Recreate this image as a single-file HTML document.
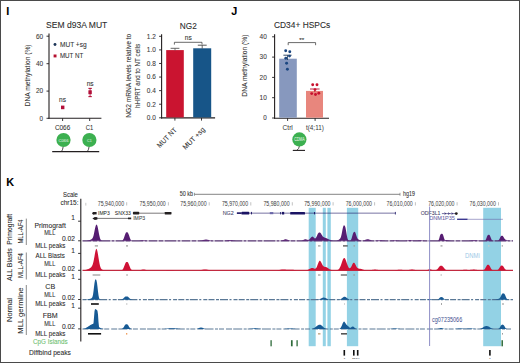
<!DOCTYPE html>
<html><head><meta charset="utf-8"><style>
html,body{margin:0;padding:0;background:#fff;}
svg{display:block;font-family:"Liberation Sans", sans-serif;}
</style></head><body>
<svg width="520" height="363" viewBox="0 0 520 363">
<rect width="520" height="363" fill="#fff"/>
<rect x="0.5" y="0.5" width="519" height="362" fill="none" stroke="#4a4a4a" stroke-width="1"/>
<text x="6.3" y="14.9" font-size="10.8" fill="#000" text-anchor="start" font-weight="bold" stroke="#000" stroke-width="0.08">I</text>
<text x="231.3" y="15.2" font-size="10.8" fill="#000" text-anchor="start" font-weight="bold" stroke="#000" stroke-width="0.08">J</text>
<text x="6.2" y="185.7" font-size="10.8" fill="#000" text-anchor="start" font-weight="bold" stroke="#000" stroke-width="0.08">K</text>
<text x="46" y="27.9" font-size="8.4" fill="#2b2b2b" text-anchor="start" textLength="61.3" lengthAdjust="spacingAndGlyphs" stroke="#2b2b2b" stroke-width="0.08">SEM d93A MUT</text>
<line x1="49" y1="33.5" x2="49" y2="118.8" stroke="#231f20" stroke-width="1.1"/>
<line x1="46.5" y1="36.2" x2="49" y2="36.2" stroke="#231f20" stroke-width="0.9"/>
<text x="43.1" y="38.5" font-size="6.6" fill="#3a3a3a" text-anchor="end" textLength="7.2" lengthAdjust="spacingAndGlyphs" stroke="#3a3a3a" stroke-width="0.08">60</text>
<line x1="46.5" y1="63.7" x2="49" y2="63.7" stroke="#231f20" stroke-width="0.9"/>
<text x="43.1" y="66.0" font-size="6.6" fill="#3a3a3a" text-anchor="end" textLength="7.2" lengthAdjust="spacingAndGlyphs" stroke="#3a3a3a" stroke-width="0.08">40</text>
<line x1="46.5" y1="91.1" x2="49" y2="91.1" stroke="#231f20" stroke-width="0.9"/>
<text x="43.1" y="93.39999999999999" font-size="6.6" fill="#3a3a3a" text-anchor="end" textLength="7.2" lengthAdjust="spacingAndGlyphs" stroke="#3a3a3a" stroke-width="0.08">20</text>
<line x1="46.5" y1="118.3" x2="49" y2="118.3" stroke="#231f20" stroke-width="0.9"/>
<text x="43.1" y="120.6" font-size="6.6" fill="#3a3a3a" text-anchor="end" textLength="3.5" lengthAdjust="spacingAndGlyphs" stroke="#3a3a3a" stroke-width="0.08">0</text>
<line x1="48.5" y1="118.3" x2="101.4" y2="118.3" stroke="#231f20" stroke-width="1.1"/>
<line x1="62.6" y1="118.3" x2="62.6" y2="121" stroke="#231f20" stroke-width="0.9"/>
<line x1="89.7" y1="118.3" x2="89.7" y2="121" stroke="#231f20" stroke-width="0.9"/>
<text x="29.7" y="75.4" font-size="7.8" fill="#333" text-anchor="middle" textLength="62" lengthAdjust="spacingAndGlyphs" transform="rotate(-90 29.7 75.4)" stroke="#333" stroke-width="0.08">DNA methylation (%)</text>
<circle cx="55.0" cy="44.5" r="1.45" fill="#1d3557"/>
<text x="59.9" y="46.6" font-size="6.9" fill="#333" text-anchor="start" textLength="26.8" lengthAdjust="spacingAndGlyphs" stroke="#333" stroke-width="0.08">MUT +sg</text>
<rect x="53.60" y="54.50" width="2.90" height="2.90" fill="#b5102f"/>
<text x="59.9" y="57.5" font-size="6.9" fill="#333" text-anchor="start" textLength="23.4" lengthAdjust="spacingAndGlyphs" stroke="#333" stroke-width="0.08">MUT NT</text>
<rect x="61.00" y="105.60" width="3.40" height="3.60" fill="#b3103a"/>
<rect x="88.40" y="90.30" width="3.40" height="3.90" fill="#b3103a"/>
<line x1="90.1" y1="88.4" x2="90.1" y2="96.6" stroke="#b3103a" stroke-width="0.8"/>
<line x1="88.4" y1="88.4" x2="91.8" y2="88.4" stroke="#b3103a" stroke-width="1.1"/>
<line x1="88.4" y1="96.6" x2="91.8" y2="96.6" stroke="#b3103a" stroke-width="1.1"/>
<text x="62.6" y="101.7" font-size="6.6" fill="#333" text-anchor="middle" stroke="#333" stroke-width="0.08">ns</text>
<text x="90.2" y="85.5" font-size="6.6" fill="#333" text-anchor="middle" stroke="#333" stroke-width="0.08">ns</text>
<text x="62.6" y="130.2" font-size="7.0" fill="#333" text-anchor="middle" textLength="15.3" lengthAdjust="spacingAndGlyphs" stroke="#333" stroke-width="0.08">C066</text>
<text x="89.5" y="130.2" font-size="7.0" fill="#333" text-anchor="middle" textLength="7.4" lengthAdjust="spacingAndGlyphs" stroke="#333" stroke-width="0.08">C1</text>
<path d="M63.2 146.5 Q62.9 149.5 61.5 151.5" stroke="#231f20" stroke-width="0.8" fill="none"/>
<circle cx="63.5" cy="140" r="7.1" fill="#3cb050"/>
<text x="63.5" y="141.5" font-size="4.2" fill="#eef8ee" text-anchor="middle" textLength="10" lengthAdjust="spacingAndGlyphs">C066</text>
<path d="M89.10000000000001 146.5 Q88.80000000000001 149.5 87.4 151.5" stroke="#231f20" stroke-width="0.8" fill="none"/>
<circle cx="89.4" cy="140" r="7.1" fill="#3cb050"/>
<text x="89.4" y="141.5" font-size="4.2" fill="#eef8ee" text-anchor="middle" textLength="4.6" lengthAdjust="spacingAndGlyphs">C1</text>
<line x1="52.2" y1="151.6" x2="99.2" y2="151.6" stroke="#231f20" stroke-width="1.1"/>
<text x="179.8" y="28.5" font-size="8.4" fill="#2b2b2b" text-anchor="start" textLength="17.0" lengthAdjust="spacingAndGlyphs" stroke="#2b2b2b" stroke-width="0.08">NG2</text>
<line x1="161.6" y1="34.3" x2="161.6" y2="118.4" stroke="#231f20" stroke-width="1.1"/>
<line x1="159.1" y1="117.8" x2="161.6" y2="117.8" stroke="#231f20" stroke-width="0.9"/>
<text x="155.8" y="120.1" font-size="6.6" fill="#3a3a3a" text-anchor="end" textLength="9.0" lengthAdjust="spacingAndGlyphs" stroke="#3a3a3a" stroke-width="0.08">0.0</text>
<line x1="159.1" y1="104.22" x2="161.6" y2="104.22" stroke="#231f20" stroke-width="0.9"/>
<text x="155.8" y="106.52" font-size="6.6" fill="#3a3a3a" text-anchor="end" textLength="9.0" lengthAdjust="spacingAndGlyphs" stroke="#3a3a3a" stroke-width="0.08">0.2</text>
<line x1="159.1" y1="90.64" x2="161.6" y2="90.64" stroke="#231f20" stroke-width="0.9"/>
<text x="155.8" y="92.94" font-size="6.6" fill="#3a3a3a" text-anchor="end" textLength="9.0" lengthAdjust="spacingAndGlyphs" stroke="#3a3a3a" stroke-width="0.08">0.4</text>
<line x1="159.1" y1="77.06" x2="161.6" y2="77.06" stroke="#231f20" stroke-width="0.9"/>
<text x="155.8" y="79.36" font-size="6.6" fill="#3a3a3a" text-anchor="end" textLength="9.0" lengthAdjust="spacingAndGlyphs" stroke="#3a3a3a" stroke-width="0.08">0.6</text>
<line x1="159.1" y1="63.48" x2="161.6" y2="63.48" stroke="#231f20" stroke-width="0.9"/>
<text x="155.8" y="65.78" font-size="6.6" fill="#3a3a3a" text-anchor="end" textLength="9.0" lengthAdjust="spacingAndGlyphs" stroke="#3a3a3a" stroke-width="0.08">0.8</text>
<line x1="159.1" y1="49.89999999999999" x2="161.6" y2="49.89999999999999" stroke="#231f20" stroke-width="0.9"/>
<text x="155.8" y="52.19999999999999" font-size="6.6" fill="#3a3a3a" text-anchor="end" textLength="9.0" lengthAdjust="spacingAndGlyphs" stroke="#3a3a3a" stroke-width="0.08">1.0</text>
<line x1="159.1" y1="36.31999999999999" x2="161.6" y2="36.31999999999999" stroke="#231f20" stroke-width="0.9"/>
<text x="155.8" y="38.61999999999999" font-size="6.6" fill="#3a3a3a" text-anchor="end" textLength="9.0" lengthAdjust="spacingAndGlyphs" stroke="#3a3a3a" stroke-width="0.08">1.2</text>
<line x1="161.1" y1="117.9" x2="215.1" y2="117.9" stroke="#231f20" stroke-width="1.1"/>
<line x1="174.9" y1="117.9" x2="174.9" y2="120.6" stroke="#231f20" stroke-width="0.9"/>
<line x1="201.5" y1="117.9" x2="201.5" y2="120.6" stroke="#231f20" stroke-width="0.9"/>
<rect x="166.20" y="50.10" width="17.60" height="67.30" fill="#ca1430"/>
<rect x="193.20" y="48.30" width="18.00" height="69.10" fill="#175588"/>
<line x1="175" y1="48.3" x2="175" y2="50.5" stroke="#555" stroke-width="0.8"/>
<line x1="170.6" y1="48.3" x2="179.4" y2="48.3" stroke="#555" stroke-width="0.9"/>
<line x1="202.2" y1="45.2" x2="202.2" y2="48.6" stroke="#444" stroke-width="0.8"/>
<line x1="197.8" y1="45.2" x2="206.7" y2="45.2" stroke="#444" stroke-width="0.9"/>
<path d="M174.4 44.6 V42.3 H202.0 V44.4" stroke="#444" stroke-width="0.8" fill="none"/>
<text x="188.3" y="40.1" font-size="6.6" fill="#333" text-anchor="middle" stroke="#333" stroke-width="0.08">ns</text>
<text x="131.0" y="75.75" font-size="7.5" fill="#333" text-anchor="middle" textLength="84.1" lengthAdjust="spacingAndGlyphs" transform="rotate(-90 131.0 75.75)" stroke="#333" stroke-width="0.08">NG2 mRNA levels relative to</text>
<text x="140.2" y="75.85" font-size="7.5" fill="#333" text-anchor="middle" textLength="64.1" lengthAdjust="spacingAndGlyphs" transform="rotate(-90 140.2 75.85)" stroke="#333" stroke-width="0.08">hHPRT and to NT cells</text>
<text x="177.3" y="130.6" font-size="7.2" fill="#333" text-anchor="end" textLength="24.8" lengthAdjust="spacingAndGlyphs" transform="rotate(-45 177.3 130.6)" stroke="#333" stroke-width="0.08">MUT NT</text>
<text x="205.5" y="130.1" font-size="7.2" fill="#333" text-anchor="end" textLength="28.2" lengthAdjust="spacingAndGlyphs" transform="rotate(-45 205.5 130.1)" stroke="#333" stroke-width="0.08">MUT +sg</text>
<text x="274.0" y="28.4" font-size="8.4" fill="#2b2b2b" text-anchor="start" textLength="56.2" lengthAdjust="spacingAndGlyphs" stroke="#2b2b2b" stroke-width="0.08">CD34+ HSPCs</text>
<line x1="274.6" y1="34.3" x2="274.6" y2="118.7" stroke="#231f20" stroke-width="1.1"/>
<line x1="272.1" y1="36.8" x2="274.6" y2="36.8" stroke="#231f20" stroke-width="0.9"/>
<text x="266.8" y="39.099999999999994" font-size="6.6" fill="#3a3a3a" text-anchor="end" textLength="7.2" lengthAdjust="spacingAndGlyphs" stroke="#3a3a3a" stroke-width="0.08">40</text>
<line x1="272.1" y1="57.099999999999994" x2="274.6" y2="57.099999999999994" stroke="#231f20" stroke-width="0.9"/>
<text x="266.8" y="59.39999999999999" font-size="6.6" fill="#3a3a3a" text-anchor="end" textLength="7.2" lengthAdjust="spacingAndGlyphs" stroke="#3a3a3a" stroke-width="0.08">30</text>
<line x1="272.1" y1="77.4" x2="274.6" y2="77.4" stroke="#231f20" stroke-width="0.9"/>
<text x="266.8" y="79.7" font-size="6.6" fill="#3a3a3a" text-anchor="end" textLength="7.2" lengthAdjust="spacingAndGlyphs" stroke="#3a3a3a" stroke-width="0.08">20</text>
<line x1="272.1" y1="97.7" x2="274.6" y2="97.7" stroke="#231f20" stroke-width="0.9"/>
<text x="266.8" y="100.0" font-size="6.6" fill="#3a3a3a" text-anchor="end" textLength="7.2" lengthAdjust="spacingAndGlyphs" stroke="#3a3a3a" stroke-width="0.08">10</text>
<line x1="272.1" y1="118.0" x2="274.6" y2="118.0" stroke="#231f20" stroke-width="0.9"/>
<text x="266.8" y="120.3" font-size="6.6" fill="#3a3a3a" text-anchor="end" textLength="3.5" lengthAdjust="spacingAndGlyphs" stroke="#3a3a3a" stroke-width="0.08">0</text>
<line x1="274.1" y1="118.2" x2="329" y2="118.2" stroke="#231f20" stroke-width="1.1"/>
<line x1="287.6" y1="118.2" x2="287.6" y2="120.9" stroke="#231f20" stroke-width="0.9"/>
<line x1="315.1" y1="118.2" x2="315.1" y2="120.9" stroke="#231f20" stroke-width="0.9"/>
<rect x="279.20" y="58.70" width="17.60" height="59.00" fill="#8798be"/>
<rect x="306.00" y="90.90" width="17.00" height="26.80" fill="#e8867d"/>
<line x1="287.5" y1="55.2" x2="287.5" y2="60" stroke="#1d3557" stroke-width="0.8"/>
<line x1="283.4" y1="55.2" x2="291.6" y2="55.2" stroke="#1d3557" stroke-width="0.9"/>
<line x1="314.8" y1="89.0" x2="314.8" y2="92" stroke="#b5102f" stroke-width="0.8"/>
<line x1="310" y1="89.0" x2="319.6" y2="89.0" stroke="#b5102f" stroke-width="0.9"/>
<circle cx="285.7" cy="50.8" r="1.45" fill="#1b4680"/>
<circle cx="289.8" cy="51.8" r="1.45" fill="#1b4680"/>
<circle cx="289.5" cy="56.1" r="1.45" fill="#1b4680"/>
<circle cx="285.8" cy="58.3" r="1.45" fill="#1b4680"/>
<circle cx="286.6" cy="63.2" r="1.45" fill="#1b4680"/>
<circle cx="287.4" cy="69.3" r="1.45" fill="#1b4680"/>
<circle cx="312.7" cy="84.7" r="1.45" fill="#c8102e"/>
<circle cx="317.0" cy="84.7" r="1.45" fill="#c8102e"/>
<circle cx="315.0" cy="89.6" r="1.45" fill="#c8102e"/>
<circle cx="311.7" cy="93.6" r="1.45" fill="#c8102e"/>
<circle cx="315.5" cy="94.5" r="1.45" fill="#c8102e"/>
<circle cx="318.8" cy="93.2" r="1.45" fill="#c8102e"/>
<path d="M288.2 45.2 V42.6 H315.6 V45.2" stroke="#444" stroke-width="0.8" fill="none"/>
<text x="301.7" y="42.2" font-size="6.2" fill="#333" text-anchor="middle" stroke="#333" stroke-width="0.08">**</text>
<text x="247.2" y="65.6" font-size="7.8" fill="#333" text-anchor="middle" textLength="62.1" lengthAdjust="spacingAndGlyphs" transform="rotate(-90 247.2 65.6)" stroke="#333" stroke-width="0.08">DNA methylation (%)</text>
<text x="287.7" y="129.7" font-size="6.6" fill="#333" text-anchor="middle" textLength="10.2" lengthAdjust="spacingAndGlyphs">Ctrl</text>
<text x="314.9" y="129.7" font-size="6.6" fill="#333" text-anchor="middle" textLength="17.8" lengthAdjust="spacingAndGlyphs">t(4;11)</text>
<path d="M299.4 146 Q299.2 148.7 296.8 150.3" stroke="#231f20" stroke-width="0.8" fill="none"/>
<circle cx="299.4" cy="139.4" r="7.1" fill="#3cb050"/>
<text x="299.4" y="141.1" font-size="4.6" fill="#eef8ee" text-anchor="middle" textLength="10.5" lengthAdjust="spacingAndGlyphs">CDMA</text>
<line x1="292.8" y1="150.4" x2="305.0" y2="150.4" stroke="#231f20" stroke-width="1.1"/>
<text x="12.0" y="229.4" font-size="7.4" fill="#2b2b2b" text-anchor="middle" textLength="30.9" lengthAdjust="spacingAndGlyphs" transform="rotate(-90 12.0 229.4)" stroke="#2b2b2b" stroke-width="0.08">Primograft</text>
<text x="22.9" y="231.5" font-size="7.4" fill="#2b2b2b" text-anchor="middle" textLength="24.1" lengthAdjust="spacingAndGlyphs" transform="rotate(-90 22.9 231.5)" stroke="#2b2b2b" stroke-width="0.08">MLL-AF4</text>
<line x1="26.3" y1="218.6" x2="26.3" y2="245" stroke="#8a8a8a" stroke-width="1"/>
<text x="12.0" y="264.7" font-size="7.4" fill="#2b2b2b" text-anchor="middle" textLength="32.8" lengthAdjust="spacingAndGlyphs" transform="rotate(-90 12.0 264.7)" stroke="#2b2b2b" stroke-width="0.08">ALL Blasts</text>
<text x="22.9" y="265.5" font-size="7.4" fill="#2b2b2b" text-anchor="middle" textLength="25.0" lengthAdjust="spacingAndGlyphs" transform="rotate(-90 22.9 265.5)" stroke="#2b2b2b" stroke-width="0.08">MLL-AF4</text>
<line x1="26.3" y1="252.5" x2="26.3" y2="279.5" stroke="#8a8a8a" stroke-width="1"/>
<text x="12.0" y="310.0" font-size="7.4" fill="#2b2b2b" text-anchor="middle" textLength="24.0" lengthAdjust="spacingAndGlyphs" transform="rotate(-90 12.0 310.0)" stroke="#2b2b2b" stroke-width="0.08">Normal</text>
<text x="22.9" y="310.6" font-size="7.4" fill="#2b2b2b" text-anchor="middle" textLength="46.2" lengthAdjust="spacingAndGlyphs" transform="rotate(-90 22.9 310.6)" stroke="#2b2b2b" stroke-width="0.08">MLL germline</text>
<line x1="26.3" y1="285.0" x2="26.3" y2="335.0" stroke="#8a8a8a" stroke-width="1"/>
<text x="77.9" y="196.9" font-size="7.0" fill="#2b2b2b" text-anchor="end" textLength="14.9" lengthAdjust="spacingAndGlyphs" stroke="#2b2b2b" stroke-width="0.08">Scale</text>
<text x="78.6" y="204.8" font-size="7.0" fill="#2b2b2b" text-anchor="end" textLength="18.2" lengthAdjust="spacingAndGlyphs" stroke="#2b2b2b" stroke-width="0.08">chr15:</text>
<text x="50.2" y="228.0" font-size="7.1" fill="#2b2b2b" text-anchor="middle" textLength="31.2" lengthAdjust="spacingAndGlyphs" stroke="#2b2b2b" stroke-width="0.08">Primograft</text>
<text x="49.8" y="234.6" font-size="7.1" fill="#2b2b2b" text-anchor="middle" textLength="11.0" lengthAdjust="spacingAndGlyphs" stroke="#2b2b2b" stroke-width="0.08">MLL</text>
<text x="74.9" y="241.10000000000002" font-size="6.8" fill="#2b2b2b" text-anchor="end" textLength="13.0" lengthAdjust="spacingAndGlyphs" stroke="#2b2b2b" stroke-width="0.08">0.02</text>
<text x="75.0" y="219.7" font-size="6.6" fill="#2b2b2b" text-anchor="end" stroke="#2b2b2b" stroke-width="0.08">1</text>
<text x="50.3" y="248.2" font-size="7.0" fill="#2b2b2b" text-anchor="middle" textLength="30.3" lengthAdjust="spacingAndGlyphs" stroke="#2b2b2b" stroke-width="0.08">MLL peaks</text>
<line x1="78.1" y1="221.2" x2="80.8" y2="221.2" stroke="#231f20" stroke-width="0.9"/>
<line x1="78.1" y1="240.8" x2="80.8" y2="240.8" stroke="#231f20" stroke-width="0.9"/>
<text x="50.2" y="258.1" font-size="7.1" fill="#2b2b2b" text-anchor="middle" textLength="29.2" lengthAdjust="spacingAndGlyphs" stroke="#2b2b2b" stroke-width="0.08">ALL Blasts</text>
<text x="49.8" y="265.6" font-size="7.1" fill="#2b2b2b" text-anchor="middle" textLength="11.0" lengthAdjust="spacingAndGlyphs" stroke="#2b2b2b" stroke-width="0.08">MLL</text>
<text x="74.9" y="270.6" font-size="6.8" fill="#2b2b2b" text-anchor="end" textLength="13.0" lengthAdjust="spacingAndGlyphs" stroke="#2b2b2b" stroke-width="0.08">0.02</text>
<text x="75.0" y="252.8" font-size="6.6" fill="#2b2b2b" text-anchor="end" stroke="#2b2b2b" stroke-width="0.08">1</text>
<text x="50.3" y="277.1" font-size="7.0" fill="#2b2b2b" text-anchor="middle" textLength="30.3" lengthAdjust="spacingAndGlyphs" stroke="#2b2b2b" stroke-width="0.08">MLL peaks</text>
<line x1="78.1" y1="253.4" x2="80.8" y2="253.4" stroke="#231f20" stroke-width="0.9"/>
<line x1="78.1" y1="270.3" x2="80.8" y2="270.3" stroke="#231f20" stroke-width="0.9"/>
<text x="50.2" y="288.6" font-size="7.1" fill="#2b2b2b" text-anchor="middle" stroke="#2b2b2b" stroke-width="0.08">CB</text>
<text x="49.8" y="296.5" font-size="7.1" fill="#2b2b2b" text-anchor="middle" textLength="11.0" lengthAdjust="spacingAndGlyphs" stroke="#2b2b2b" stroke-width="0.08">MLL</text>
<text x="74.9" y="299.8" font-size="6.8" fill="#2b2b2b" text-anchor="end" textLength="13.0" lengthAdjust="spacingAndGlyphs" stroke="#2b2b2b" stroke-width="0.08">0.02</text>
<text x="75.0" y="279.0" font-size="6.6" fill="#2b2b2b" text-anchor="end" stroke="#2b2b2b" stroke-width="0.08">1</text>
<text x="50.3" y="306.4" font-size="7.0" fill="#2b2b2b" text-anchor="middle" textLength="30.3" lengthAdjust="spacingAndGlyphs" stroke="#2b2b2b" stroke-width="0.08">MLL peaks</text>
<line x1="78.1" y1="279.3" x2="80.8" y2="279.3" stroke="#231f20" stroke-width="0.9"/>
<line x1="78.1" y1="299.5" x2="80.8" y2="299.5" stroke="#231f20" stroke-width="0.9"/>
<text x="50.2" y="318.0" font-size="7.1" fill="#2b2b2b" text-anchor="middle" stroke="#2b2b2b" stroke-width="0.08">FBM</text>
<text x="49.8" y="326.3" font-size="7.1" fill="#2b2b2b" text-anchor="middle" textLength="11.0" lengthAdjust="spacingAndGlyphs" stroke="#2b2b2b" stroke-width="0.08">MLL</text>
<text x="74.9" y="329.2" font-size="6.8" fill="#2b2b2b" text-anchor="end" textLength="13.0" lengthAdjust="spacingAndGlyphs" stroke="#2b2b2b" stroke-width="0.08">0.02</text>
<text x="75.0" y="307.5" font-size="6.6" fill="#2b2b2b" text-anchor="end" stroke="#2b2b2b" stroke-width="0.08">1</text>
<text x="50.3" y="335.6" font-size="7.0" fill="#2b2b2b" text-anchor="middle" textLength="30.3" lengthAdjust="spacingAndGlyphs" stroke="#2b2b2b" stroke-width="0.08">MLL peaks</text>
<line x1="78.1" y1="308.2" x2="80.8" y2="308.2" stroke="#231f20" stroke-width="0.9"/>
<line x1="78.1" y1="328.9" x2="80.8" y2="328.9" stroke="#231f20" stroke-width="0.9"/>
<text x="50.4" y="344.2" font-size="7.0" fill="#6cc070" text-anchor="middle" textLength="34.7" lengthAdjust="spacingAndGlyphs" stroke="#6cc070" stroke-width="0.08">CpG Islands</text>
<text x="49.9" y="355.3" font-size="7.0" fill="#2b2b2b" text-anchor="middle" textLength="41.8" lengthAdjust="spacingAndGlyphs" stroke="#2b2b2b" stroke-width="0.08">Diffbind peaks</text>
<line x1="80.8" y1="198.8" x2="80.8" y2="341.4" stroke="#231f20" stroke-width="1.1"/>
<rect x="308.70" y="207.80" width="7.00" height="138.40" fill="#93d2e5"/>
<rect x="322.80" y="207.80" width="3.00" height="138.40" fill="#93d2e5"/>
<rect x="327.40" y="207.80" width="3.40" height="138.40" fill="#93d2e5"/>
<rect x="346.90" y="207.80" width="11.30" height="138.40" fill="#93d2e5"/>
<rect x="483.20" y="207.80" width="17.80" height="138.40" fill="#93d2e5"/>
<text x="179.7" y="196.2" font-size="6.8" fill="#333" text-anchor="start" textLength="13.4" lengthAdjust="spacingAndGlyphs" stroke="#333" stroke-width="0.08">50 kb</text>
<line x1="194.5" y1="194.3" x2="400" y2="194.3" stroke="#777" stroke-width="0.9"/>
<line x1="194.5" y1="192.8" x2="194.5" y2="195.8" stroke="#777" stroke-width="0.7"/>
<line x1="400" y1="192.8" x2="400" y2="195.8" stroke="#777" stroke-width="0.7"/>
<text x="403.1" y="196.4" font-size="6.8" fill="#333" text-anchor="start" textLength="11.8" lengthAdjust="spacingAndGlyphs" stroke="#333" stroke-width="0.08">hg19</text>
<line x1="85.8" y1="202.8" x2="85.8" y2="205.6" stroke="#bbb" stroke-width="0.8"/>
<text x="124.10000000000001" y="205.8" font-size="6.4" fill="#3a3a3a" text-anchor="end" textLength="26.3" lengthAdjust="spacingAndGlyphs">75,940,000</text>
<line x1="126.7" y1="202.2" x2="126.7" y2="205.5" stroke="#999" stroke-width="0.6"/>
<text x="165.8" y="205.8" font-size="6.4" fill="#3a3a3a" text-anchor="end" textLength="26.3" lengthAdjust="spacingAndGlyphs">75,950,000</text>
<line x1="168.4" y1="202.2" x2="168.4" y2="205.5" stroke="#999" stroke-width="0.6"/>
<text x="206.6" y="205.8" font-size="6.4" fill="#3a3a3a" text-anchor="end" textLength="26.3" lengthAdjust="spacingAndGlyphs">75,960,000</text>
<line x1="209.2" y1="202.2" x2="209.2" y2="205.5" stroke="#999" stroke-width="0.6"/>
<text x="248.20000000000002" y="205.8" font-size="6.4" fill="#3a3a3a" text-anchor="end" textLength="26.3" lengthAdjust="spacingAndGlyphs">75,970,000</text>
<line x1="250.8" y1="202.2" x2="250.8" y2="205.5" stroke="#999" stroke-width="0.6"/>
<text x="289.7" y="205.8" font-size="6.4" fill="#3a3a3a" text-anchor="end" textLength="26.3" lengthAdjust="spacingAndGlyphs">75,980,000</text>
<line x1="292.3" y1="202.2" x2="292.3" y2="205.5" stroke="#999" stroke-width="0.6"/>
<text x="330.5" y="205.8" font-size="6.4" fill="#3a3a3a" text-anchor="end" textLength="26.3" lengthAdjust="spacingAndGlyphs">75,990,000</text>
<line x1="333.1" y1="202.2" x2="333.1" y2="205.5" stroke="#999" stroke-width="0.6"/>
<text x="372.0" y="205.8" font-size="6.4" fill="#3a3a3a" text-anchor="end" textLength="26.3" lengthAdjust="spacingAndGlyphs">76,000,000</text>
<line x1="374.6" y1="202.2" x2="374.6" y2="205.5" stroke="#999" stroke-width="0.6"/>
<text x="412.79999999999995" y="205.8" font-size="6.4" fill="#3a3a3a" text-anchor="end" textLength="26.3" lengthAdjust="spacingAndGlyphs">76,010,000</text>
<line x1="415.4" y1="202.2" x2="415.4" y2="205.5" stroke="#999" stroke-width="0.6"/>
<text x="454.5" y="205.8" font-size="6.4" fill="#3a3a3a" text-anchor="end" textLength="26.3" lengthAdjust="spacingAndGlyphs">76,020,000</text>
<line x1="457.1" y1="202.2" x2="457.1" y2="205.5" stroke="#999" stroke-width="0.6"/>
<text x="495.9" y="205.8" font-size="6.4" fill="#3a3a3a" text-anchor="end" textLength="26.3" lengthAdjust="spacingAndGlyphs">76,030,000</text>
<line x1="498.5" y1="202.2" x2="498.5" y2="205.5" stroke="#999" stroke-width="0.6"/>
<rect x="93.00" y="212.00" width="3.60" height="2.40" fill="#231f20"/>
<circle cx="93.6" cy="213.2" r="1.3" fill="#231f20"/>
<text x="98.0" y="214.7" font-size="6.2" fill="#231f20" text-anchor="start" textLength="11.8" lengthAdjust="spacingAndGlyphs" stroke="#231f20" stroke-width="0.04">IMP3</text>
<text x="114.8" y="214.5" font-size="6.2" fill="#231f20" text-anchor="start" textLength="16.0" lengthAdjust="spacingAndGlyphs" stroke="#231f20" stroke-width="0.04">SNX33</text>
<rect x="132.90" y="211.85" width="6.40" height="2.70" fill="#231f20" rx="0.8"/>
<line x1="139.2" y1="213.2" x2="164.6" y2="213.2" stroke="#231f20" stroke-width="0.6"/>
<rect x="164.60" y="212.00" width="6.90" height="2.40" fill="#231f20" rx="0.6"/>
<path d="M92.4 218.4 L94.8 216.9 L97.4 217.3 L97.4 219.5 L94.8 219.9 Z" fill="#231f20"/>
<line x1="96" y1="218.4" x2="129.0" y2="218.4" stroke="#231f20" stroke-width="0.6"/>
<rect x="128.00" y="217.55" width="3.20" height="1.70" fill="#231f20"/>
<text x="133.2" y="220.2" font-size="6.2" fill="#444" text-anchor="start" textLength="12.0" lengthAdjust="spacingAndGlyphs" stroke="#444" stroke-width="0.08">IMP3</text>
<text x="222.7" y="215.0" font-size="6.2" fill="#3c3c66" text-anchor="start" textLength="11.1" lengthAdjust="spacingAndGlyphs" stroke="#3c3c66" stroke-width="0.08">NG2</text>
<line x1="236.9" y1="213.15" x2="395.4" y2="213.15" stroke="#1b1464" stroke-width="0.6"/>
<rect x="236.90" y="212.40" width="4.60" height="1.50" fill="#1b1464"/>
<rect x="241.50" y="211.80" width="7.70" height="2.70" fill="#1b1464" rx="0.6"/>
<rect x="251.10" y="211.90" width="0.90" height="2.50" fill="#1b1464"/>
<rect x="269.80" y="212.10" width="3.50" height="2.10" fill="#6a66a8"/>
<rect x="280.00" y="212.00" width="0.80" height="2.40" fill="#1b1464"/>
<rect x="281.90" y="211.90" width="2.30" height="2.60" fill="#1b1464"/>
<rect x="290.20" y="211.90" width="14.80" height="2.60" fill="#1b1464" rx="0.6"/>
<rect x="314.00" y="212.00" width="0.90" height="2.40" fill="#1b1464"/>
<line x1="395.4" y1="211.9" x2="395.4" y2="214.5" stroke="#1b1464" stroke-width="0.8"/>
<text x="420.8" y="215.3" font-size="6.2" fill="#3c3c66" text-anchor="start" textLength="19.7" lengthAdjust="spacingAndGlyphs" stroke="#3c3c66" stroke-width="0.08">ODF3L1</text>
<line x1="441.9" y1="213.6" x2="456.2" y2="213.6" stroke="#1b1464" stroke-width="0.6"/>
<path d="M444.5 212.6 L445.9 213.6 L444.5 214.6" stroke="#1b1464" stroke-width="0.6" fill="none"/>
<path d="M448 212.6 L449.4 213.6 L448 214.6" stroke="#1b1464" stroke-width="0.6" fill="none"/>
<path d="M451.5 212.6 L452.9 213.6 L451.5 214.6" stroke="#1b1464" stroke-width="0.6" fill="none"/>
<circle cx="456.3" cy="213.6" r="1.4" fill="#231f20"/>
<text x="429.2" y="220.4" font-size="6.2" fill="#6a66a8" text-anchor="start" textLength="25.8" lengthAdjust="spacingAndGlyphs" stroke="#6a66a8" stroke-width="0.08">DNM1P35</text>
<rect x="457.10" y="218.60" width="10.50" height="1.40" fill="#3b3790"/>
<line x1="467.6" y1="219.3" x2="502.9" y2="219.3" stroke="#6a66a8" stroke-width="0.6"/>
<line x1="82.5" y1="240.8" x2="513.0" y2="240.8" stroke="#53306f" stroke-width="1.3" stroke-dasharray="9 1 5 1 12 1 3 1"/>
<path d="M82.5 240.8 L82.5 240.8 L85.5 240.8 L86.0 240.73 L86.5 240.69 L87.0 240.64 L87.5 240.57 L88.0 240.48 L88.5 240.36 L89.0 240.22 L89.5 240.07 L90.0 239.89 L90.5 239.70 L91.0 239.49 L91.5 239.22 L92.0 238.83 L92.5 238.20 L93.0 237.18 L93.5 235.65 L94.0 233.58 L94.5 231.10 L95.0 228.56 L95.5 226.39 L96.0 225.00 L96.5 224.58 L97.0 224.97 L97.5 226.29 L98.0 228.47 L98.5 231.17 L99.0 233.92 L99.5 236.33 L100.0 238.16 L100.5 239.39 L101.0 240.12 L101.5 240.51 L102.0 240.68 L102.5 240.8 L121.5 240.8 L122.0 240.64 L122.5 240.39 L123.0 239.86 L123.5 238.98 L124.0 237.72 L124.5 236.21 L125.0 234.69 L125.5 233.43 L126.0 232.61 L126.5 232.25 L127.0 232.20 L127.5 232.35 L128.0 232.88 L128.5 233.89 L129.0 235.28 L129.5 236.83 L130.0 238.26 L130.5 239.38 L131.0 240.11 L131.5 240.51 L132.0 240.70 L132.5 240.8 L138.5 240.8 L139.0 240.72 L139.5 240.67 L140.0 240.61 L140.5 240.53 L141.0 240.44 L141.5 240.35 L142.0 240.27 L142.5 240.22 L143.0 240.20 L143.5 240.22 L144.0 240.27 L144.5 240.35 L145.0 240.44 L145.5 240.53 L146.0 240.61 L146.5 240.67 L147.0 240.72 L147.5 240.8 L198.0 240.8 L198.5 240.75 L199.0 240.72 L199.5 240.69 L200.0 240.64 L200.5 240.58 L201.0 240.50 L201.5 240.41 L202.0 240.31 L202.5 240.19 L203.0 240.07 L203.5 239.95 L204.0 239.84 L204.5 239.74 L205.0 239.66 L205.5 239.62 L206.0 239.60 L206.5 239.62 L207.0 239.66 L207.5 239.74 L208.0 239.84 L208.5 239.95 L209.0 240.07 L209.5 240.19 L210.0 240.31 L210.5 240.41 L211.0 240.50 L211.5 240.58 L212.0 240.64 L212.5 240.69 L213.0 240.72 L213.5 240.75 L214.0 240.8 L222.5 240.8 L223.0 240.75 L223.5 240.72 L224.0 240.69 L224.5 240.65 L225.0 240.60 L225.5 240.54 L226.0 240.47 L226.5 240.39 L227.0 240.31 L227.5 240.23 L228.0 240.16 L228.5 240.09 L229.0 240.04 L229.5 240.01 L230.0 240.00 L230.5 240.01 L231.0 240.04 L231.5 240.09 L232.0 240.16 L232.5 240.23 L233.0 240.31 L233.5 240.39 L234.0 240.47 L234.5 240.54 L235.0 240.60 L235.5 240.65 L236.0 240.69 L236.5 240.72 L237.0 240.75 L237.5 240.8 L279.5 240.8 L280.0 240.75 L280.5 240.71 L281.0 240.65 L281.5 240.56 L282.0 240.44 L282.5 240.28 L283.0 240.09 L283.5 239.89 L284.0 239.69 L284.5 239.51 L285.0 239.37 L285.5 239.31 L286.0 239.31 L286.5 239.40 L287.0 239.54 L287.5 239.73 L288.0 239.93 L288.5 240.13 L289.0 240.31 L289.5 240.46 L290.0 240.58 L290.5 240.66 L291.0 240.72 L291.5 240.8 L300.5 240.8 L301.0 240.72 L301.5 240.65 L302.0 240.53 L302.5 240.36 L303.0 240.14 L303.5 239.88 L304.0 239.62 L304.5 239.39 L305.0 239.24 L305.5 239.20 L306.0 239.27 L306.5 239.43 L307.0 239.64 L307.5 239.82 L308.0 239.91 L308.5 239.87 L309.0 239.65 L309.5 239.26 L310.0 238.72 L310.5 238.09 L311.0 237.46 L311.5 236.95 L312.0 236.65 L312.5 236.62 L313.0 236.85 L313.5 237.29 L314.0 237.81 L314.5 238.24 L315.0 238.44 L315.5 238.28 L316.0 237.70 L316.5 236.77 L317.0 235.64 L317.5 234.51 L318.0 233.57 L318.5 232.94 L319.0 232.60 L319.5 232.42 L320.0 232.50 L320.5 232.91 L321.0 233.61 L321.5 234.48 L322.0 235.35 L322.5 236.09 L323.0 236.64 L323.5 237.02 L324.0 237.28 L324.5 237.48 L325.0 237.67 L325.5 237.88 L326.0 238.11 L326.5 238.34 L327.0 238.57 L327.5 238.79 L328.0 239.01 L328.5 239.22 L329.0 239.43 L329.5 239.63 L330.0 239.83 L330.5 240.01 L331.0 240.18 L331.5 240.33 L332.0 240.46 L332.5 240.56 L333.0 240.63 L333.5 240.69 L334.0 240.73 L334.5 240.75 L335.0 240.8 L335.5 240.74 L336.0 240.70 L336.5 240.64 L337.0 240.53 L337.5 240.37 L338.0 240.15 L338.5 239.88 L339.0 239.56 L339.5 239.20 L340.0 238.72 L340.5 237.97 L341.0 236.75 L341.5 234.85 L342.0 232.34 L342.5 229.60 L343.0 227.23 L343.5 225.72 L344.0 225.22 L344.5 225.39 L345.0 226.13 L345.5 227.84 L346.0 230.44 L346.5 233.46 L347.0 236.28 L347.5 238.41 L348.0 239.73 L348.5 240.40 L349.0 240.67 L349.5 240.73 L350.0 240.66 L350.5 240.39 L351.0 239.76 L351.5 238.65 L352.0 237.06 L352.5 235.24 L353.0 233.59 L353.5 232.46 L354.0 231.93 L354.5 231.76 L355.0 232.03 L355.5 232.94 L356.0 234.38 L356.5 236.01 L357.0 237.44 L357.5 238.48 L358.0 239.15 L358.5 239.57 L359.0 239.86 L359.5 240.11 L360.0 240.31 L360.5 240.47 L361.0 240.58 L361.5 240.65 L362.0 240.68 L362.5 240.67 L363.0 240.62 L363.5 240.53 L364.0 240.41 L364.5 240.24 L365.0 240.05 L365.5 239.83 L366.0 239.61 L366.5 239.42 L367.0 239.28 L367.5 239.21 L368.0 239.21 L368.5 239.30 L369.0 239.46 L369.5 239.65 L370.0 239.87 L370.5 240.08 L371.0 240.27 L371.5 240.43 L372.0 240.55 L372.5 240.63 L373.0 240.67 L373.5 240.69 L374.0 240.69 L374.5 240.67 L375.0 240.64 L375.5 240.60 L376.0 240.55 L376.5 240.50 L377.0 240.44 L377.5 240.38 L378.0 240.32 L378.5 240.27 L379.0 240.23 L379.5 240.21 L380.0 240.20 L380.5 240.21 L381.0 240.23 L381.5 240.27 L382.0 240.32 L382.5 240.38 L383.0 240.44 L383.5 240.50 L384.0 240.55 L384.5 240.60 L385.0 240.65 L385.5 240.68 L386.0 240.71 L386.5 240.73 L387.0 240.75 L387.5 240.8 L388.0 240.75 L388.5 240.74 L389.0 240.73 L389.5 240.70 L390.0 240.67 L390.5 240.64 L391.0 240.59 L391.5 240.55 L392.0 240.50 L392.5 240.45 L393.0 240.40 L393.5 240.36 L394.0 240.33 L394.5 240.31 L395.0 240.30 L395.5 240.31 L396.0 240.33 L396.5 240.36 L397.0 240.40 L397.5 240.45 L398.0 240.50 L398.5 240.55 L399.0 240.59 L399.5 240.64 L400.0 240.68 L400.5 240.71 L401.0 240.73 L401.5 240.8 L404.0 240.8 L404.5 240.73 L405.0 240.70 L405.5 240.66 L406.0 240.60 L406.5 240.54 L407.0 240.46 L407.5 240.38 L408.0 240.29 L408.5 240.21 L409.0 240.15 L409.5 240.11 L410.0 240.10 L410.5 240.11 L411.0 240.15 L411.5 240.21 L412.0 240.28 L412.5 240.35 L413.0 240.43 L413.5 240.49 L414.0 240.54 L414.5 240.57 L415.0 240.58 L415.5 240.58 L416.0 240.56 L416.5 240.52 L417.0 240.48 L417.5 240.44 L418.0 240.40 L418.5 240.36 L419.0 240.33 L419.5 240.31 L420.0 240.30 L420.5 240.31 L421.0 240.33 L421.5 240.36 L422.0 240.40 L422.5 240.45 L423.0 240.50 L423.5 240.55 L424.0 240.59 L424.5 240.64 L425.0 240.68 L425.5 240.71 L426.0 240.73 L426.5 240.8 L437.5 240.8 L438.0 240.73 L438.5 240.37 L439.0 239.26 L439.5 237.43 L440.0 235.58 L440.5 234.41 L441.0 233.95 L441.5 233.84 L442.0 233.79 L442.5 233.94 L443.0 234.68 L443.5 236.19 L444.0 238.03 L444.5 239.38 L445.0 239.91 L445.5 240.00 L446.0 240.00 L446.5 240.02 L447.0 240.06 L447.5 240.13 L448.0 240.22 L448.5 240.31 L449.0 240.41 L449.5 240.50 L450.0 240.58 L450.5 240.64 L451.0 240.69 L451.5 240.73 L452.0 240.8 L467.0 240.8 L467.5 240.73 L468.0 240.71 L468.5 240.67 L469.0 240.63 L469.5 240.57 L470.0 240.51 L470.5 240.45 L471.0 240.38 L471.5 240.31 L472.0 240.24 L472.5 240.18 L473.0 240.14 L473.5 240.11 L474.0 240.10 L474.5 240.11 L475.0 240.14 L475.5 240.18 L476.0 240.24 L476.5 240.31 L477.0 240.38 L477.5 240.45 L478.0 240.51 L478.5 240.57 L479.0 240.63 L479.5 240.67 L480.0 240.71 L480.5 240.73 L481.0 240.8 L484.5 240.8 L485.0 240.65 L485.5 240.25 L486.0 239.37 L486.5 238.04 L487.0 236.61 L487.5 235.51 L488.0 234.95 L488.5 234.80 L489.0 234.81 L489.5 235.02 L490.0 235.69 L490.5 236.88 L491.0 238.33 L491.5 239.59 L492.0 240.36 L492.5 240.69 L493.0 240.8 L497.5 240.8 L498.0 240.65 L498.5 240.37 L499.0 239.80 L499.5 238.91 L500.0 237.84 L500.5 236.85 L501.0 236.15 L501.5 235.81 L502.0 235.68 L502.5 235.74 L503.0 236.16 L503.5 236.93 L504.0 237.85 L504.5 238.69 L505.0 239.28 L505.5 239.65 L506.0 239.87 L506.5 240.03 L507.0 240.19 L507.5 240.34 L508.0 240.48 L508.5 240.58 L509.0 240.66 L509.5 240.72 L510.0 240.8 L513.0 240.8 L513.0 240.8 Z" fill="#561d72"/>
<line x1="82.5" y1="270.3" x2="513.0" y2="270.3" stroke="#c22a40" stroke-width="1.3"/>
<path d="M82.5 270.3 L82.5 270.24 L83.0 270.22 L83.5 270.19 L84.0 270.15 L84.5 270.09 L85.0 270.02 L85.5 269.93 L86.0 269.83 L86.5 269.70 L87.0 269.54 L87.5 269.37 L88.0 269.16 L88.5 268.94 L89.0 268.69 L89.5 268.42 L90.0 268.12 L90.5 267.79 L91.0 267.38 L91.5 266.84 L92.0 266.09 L92.5 265.01 L93.0 263.50 L93.5 261.48 L94.0 258.97 L94.5 256.14 L95.0 253.29 L95.5 250.84 L96.0 249.24 L96.5 248.82 L97.0 249.69 L97.5 251.72 L98.0 254.56 L98.5 257.75 L99.0 260.87 L99.5 263.59 L100.0 265.75 L100.5 267.34 L101.0 268.42 L101.5 269.11 L102.0 269.54 L102.5 269.81 L103.0 269.97 L103.5 270.07 L104.0 270.14 L104.5 270.19 L105.0 270.22 L105.5 270.24 L106.0 270.3 L121.0 270.3 L121.5 270.18 L122.0 269.99 L122.5 269.63 L123.0 269.01 L123.5 268.07 L124.0 266.86 L124.5 265.48 L125.0 264.14 L125.5 263.03 L126.0 262.29 L126.5 261.95 L127.0 261.90 L127.5 262.04 L128.0 262.54 L128.5 263.44 L129.0 264.66 L129.5 266.04 L130.0 267.37 L130.5 268.49 L131.0 269.29 L131.5 269.80 L132.0 270.08 L132.5 270.22 L133.0 270.3 L138.5 270.3 L139.0 270.23 L139.5 270.18 L140.0 270.11 L140.5 270.02 L141.0 269.91 L141.5 269.79 L142.0 269.67 L142.5 269.58 L143.0 269.52 L143.5 269.50 L144.0 269.54 L144.5 269.61 L145.0 269.72 L145.5 269.84 L146.0 269.96 L146.5 270.06 L147.0 270.14 L147.5 270.20 L148.0 270.24 L148.5 270.3 L163.5 270.3 L164.0 270.25 L164.5 270.23 L165.0 270.20 L165.5 270.17 L166.0 270.14 L166.5 270.10 L167.0 270.06 L167.5 270.02 L168.0 269.98 L168.5 269.95 L169.0 269.92 L169.5 269.91 L170.0 269.90 L170.5 269.91 L171.0 269.92 L171.5 269.95 L172.0 269.98 L172.5 270.02 L173.0 270.06 L173.5 270.10 L174.0 270.14 L174.5 270.17 L175.0 270.20 L175.5 270.23 L176.0 270.25 L176.5 270.3 L197.5 270.3 L198.0 270.25 L198.5 270.22 L199.0 270.19 L199.5 270.15 L200.0 270.10 L200.5 270.04 L201.0 269.97 L201.5 269.89 L202.0 269.81 L202.5 269.73 L203.0 269.66 L203.5 269.59 L204.0 269.54 L204.5 269.51 L205.0 269.50 L205.5 269.51 L206.0 269.54 L206.5 269.59 L207.0 269.66 L207.5 269.73 L208.0 269.81 L208.5 269.89 L209.0 269.97 L209.5 270.04 L210.0 270.10 L210.5 270.15 L211.0 270.19 L211.5 270.22 L212.0 270.25 L212.5 270.3 L275.5 270.3 L276.0 270.25 L276.5 270.22 L277.0 270.19 L277.5 270.15 L278.0 270.10 L278.5 270.04 L279.0 269.97 L279.5 269.89 L280.0 269.81 L280.5 269.73 L281.0 269.66 L281.5 269.59 L282.0 269.54 L282.5 269.50 L283.0 269.48 L283.5 269.48 L284.0 269.50 L284.5 269.54 L285.0 269.58 L285.5 269.62 L286.0 269.67 L286.5 269.70 L287.0 269.72 L287.5 269.74 L288.0 269.74 L288.5 269.73 L289.0 269.71 L289.5 269.69 L290.0 269.68 L290.5 269.67 L291.0 269.68 L291.5 269.69 L292.0 269.72 L292.5 269.77 L293.0 269.82 L293.5 269.87 L294.0 269.94 L294.5 270.00 L295.0 270.05 L295.5 270.11 L296.0 270.15 L296.5 270.19 L297.0 270.22 L297.5 270.24 L298.0 270.3 L305.5 270.3 L306.0 270.24 L306.5 270.19 L307.0 270.12 L307.5 270.00 L308.0 269.84 L308.5 269.62 L309.0 269.35 L309.5 269.04 L310.0 268.71 L310.5 268.40 L311.0 268.13 L311.5 267.96 L312.0 267.89 L312.5 267.95 L313.0 268.10 L313.5 268.32 L314.0 268.55 L314.5 268.73 L315.0 268.77 L315.5 268.60 L316.0 268.17 L316.5 267.43 L317.0 266.39 L317.5 265.12 L318.0 263.74 L318.5 262.44 L319.0 261.42 L319.5 260.82 L320.0 260.73 L320.5 261.16 L321.0 261.97 L321.5 263.01 L322.0 264.09 L322.5 265.04 L323.0 265.79 L323.5 266.31 L324.0 266.62 L324.5 266.78 L325.0 266.88 L325.5 266.96 L326.0 267.09 L326.5 267.27 L327.0 267.52 L327.5 267.82 L328.0 268.15 L328.5 268.50 L329.0 268.83 L329.5 269.15 L330.0 269.42 L330.5 269.65 L331.0 269.84 L331.5 269.98 L332.0 270.08 L332.5 270.16 L333.0 270.21 L333.5 270.24 L334.0 270.3 L335.5 270.3 L336.0 270.24 L336.5 270.19 L337.0 270.10 L337.5 269.96 L338.0 269.73 L338.5 269.39 L339.0 268.89 L339.5 268.20 L340.0 267.30 L340.5 266.19 L341.0 264.88 L341.5 263.44 L342.0 261.95 L342.5 260.54 L343.0 259.34 L343.5 258.47 L344.0 258.04 L344.5 258.09 L345.0 258.61 L345.5 259.55 L346.0 260.80 L346.5 262.23 L347.0 263.71 L347.5 265.10 L348.0 266.31 L348.5 267.27 L349.0 267.93 L349.5 268.25 L350.0 268.22 L350.5 267.84 L351.0 267.14 L351.5 266.20 L352.0 265.13 L352.5 264.08 L353.0 263.23 L353.5 262.72 L354.0 262.65 L354.5 263.02 L355.0 263.75 L355.5 264.71 L356.0 265.73 L356.5 266.68 L357.0 267.46 L357.5 268.02 L358.0 268.37 L358.5 268.57 L359.0 268.66 L359.5 268.70 L360.0 268.74 L360.5 268.80 L361.0 268.90 L361.5 269.04 L362.0 269.21 L362.5 269.39 L363.0 269.57 L363.5 269.74 L364.0 269.88 L364.5 270.00 L365.0 270.09 L365.5 270.16 L366.0 270.21 L366.5 270.24 L367.0 270.3 L367.5 270.3 L368.0 270.25 L368.5 270.23 L369.0 270.20 L369.5 270.17 L370.0 270.12 L370.5 270.07 L371.0 270.01 L371.5 269.95 L372.0 269.88 L372.5 269.81 L373.0 269.74 L373.5 269.68 L374.0 269.64 L374.5 269.61 L375.0 269.60 L375.5 269.61 L376.0 269.64 L376.5 269.68 L377.0 269.74 L377.5 269.81 L378.0 269.88 L378.5 269.95 L379.0 270.01 L379.5 270.07 L380.0 270.13 L380.5 270.17 L381.0 270.21 L381.5 270.23 L382.0 270.3 L393.0 270.3 L393.5 270.24 L394.0 270.22 L394.5 270.19 L395.0 270.15 L395.5 270.11 L396.0 270.05 L396.5 270.00 L397.0 269.94 L397.5 269.88 L398.0 269.82 L398.5 269.77 L399.0 269.73 L399.5 269.71 L400.0 269.70 L400.5 269.71 L401.0 269.73 L401.5 269.77 L402.0 269.82 L402.5 269.88 L403.0 269.93 L403.5 269.99 L404.0 270.05 L404.5 270.10 L405.0 270.13 L405.5 270.16 L406.0 270.17 L406.5 270.17 L407.0 270.15 L407.5 270.12 L408.0 270.06 L408.5 269.99 L409.0 269.90 L409.5 269.81 L410.0 269.72 L410.5 269.63 L411.0 269.56 L411.5 269.52 L412.0 269.50 L412.5 269.52 L413.0 269.56 L413.5 269.63 L414.0 269.72 L414.5 269.81 L415.0 269.91 L415.5 270.00 L416.0 270.08 L416.5 270.14 L417.0 270.19 L417.5 270.23 L418.0 270.3 L426.0 270.3 L426.5 270.20 L427.0 270.10 L427.5 269.96 L428.0 269.77 L428.5 269.57 L429.0 269.40 L429.5 269.31 L430.0 269.32 L430.5 269.43 L431.0 269.61 L431.5 269.81 L432.0 269.99 L432.5 270.12 L433.0 270.21 L433.5 270.3 L434.5 270.3 L435.0 270.24 L435.5 270.18 L436.0 270.05 L436.5 269.83 L437.0 269.49 L437.5 269.02 L438.0 268.44 L438.5 267.78 L439.0 267.12 L439.5 266.53 L440.0 266.08 L440.5 265.81 L441.0 265.71 L441.5 265.71 L442.0 265.85 L442.5 266.15 L443.0 266.64 L443.5 267.25 L444.0 267.91 L444.5 268.56 L445.0 269.13 L445.5 269.57 L446.0 269.88 L446.5 270.08 L447.0 270.19 L447.5 270.3 L458.5 270.3 L459.0 270.23 L459.5 270.21 L460.0 270.18 L460.5 270.14 L461.0 270.09 L461.5 270.05 L462.0 270.00 L462.5 269.95 L463.0 269.90 L463.5 269.86 L464.0 269.82 L464.5 269.80 L465.0 269.79 L465.5 269.79 L466.0 269.81 L466.5 269.83 L467.0 269.85 L467.5 269.88 L468.0 269.90 L468.5 269.92 L469.0 269.92 L469.5 269.91 L470.0 269.89 L470.5 269.85 L471.0 269.81 L471.5 269.76 L472.0 269.71 L472.5 269.66 L473.0 269.62 L473.5 269.60 L474.0 269.59 L474.5 269.61 L475.0 269.64 L475.5 269.68 L476.0 269.74 L476.5 269.81 L477.0 269.88 L477.5 269.95 L478.0 270.01 L478.5 270.07 L479.0 270.13 L479.5 270.17 L480.0 270.21 L480.5 270.23 L481.0 270.3 L482.5 270.3 L483.0 270.21 L483.5 270.09 L484.0 269.83 L484.5 269.39 L485.0 268.73 L485.5 267.87 L486.0 266.90 L486.5 265.98 L487.0 265.26 L487.5 264.84 L488.0 264.70 L488.5 264.75 L489.0 265.05 L489.5 265.66 L490.0 266.52 L490.5 267.49 L491.0 268.41 L491.5 269.16 L492.0 269.69 L492.5 270.01 L493.0 270.18 L493.5 270.3 L496.5 270.3 L497.0 270.17 L497.5 270.01 L498.0 269.70 L498.5 269.21 L499.0 268.53 L499.5 267.72 L500.0 266.90 L500.5 266.20 L501.0 265.73 L501.5 265.52 L502.0 265.51 L502.5 265.67 L503.0 266.09 L503.5 266.75 L504.0 267.56 L504.5 268.38 L505.0 269.09 L505.5 269.61 L506.0 269.96 L506.5 270.15 L507.0 270.24 L507.5 270.3 L513.0 270.3 L513.0 270.3 Z" fill="#cf1236"/>
<line x1="82.5" y1="299.7" x2="513.0" y2="299.7" stroke="#5a7896" stroke-width="1.2" stroke-dasharray="4 1.2 6 1.5 3 1 8 1.5 2 2"/>
<path d="M82.5 299.7 L82.5 299.7 L85.0 299.7 L85.5 299.63 L86.0 299.60 L86.5 299.56 L87.0 299.50 L87.5 299.42 L88.0 299.33 L88.5 299.21 L89.0 299.08 L89.5 298.94 L90.0 298.79 L90.5 298.64 L91.0 298.48 L91.5 298.27 L92.0 297.83 L92.5 296.78 L93.0 294.65 L93.5 291.21 L94.0 286.95 L94.5 282.98 L95.0 280.33 L95.5 279.34 L96.0 279.42 L96.5 280.42 L97.0 283.00 L97.5 287.01 L98.0 291.49 L98.5 295.28 L99.0 297.74 L99.5 298.97 L100.0 299.45 L100.5 299.61 L101.0 299.7 L120.5 299.7 L121.0 299.61 L121.5 299.50 L122.0 299.32 L122.5 299.05 L123.0 298.67 L123.5 298.20 L124.0 297.70 L124.5 297.22 L125.0 296.83 L125.5 296.56 L126.0 296.43 L126.5 296.40 L127.0 296.43 L127.5 296.56 L128.0 296.83 L128.5 297.22 L129.0 297.70 L129.5 298.20 L130.0 298.67 L130.5 299.05 L131.0 299.32 L131.5 299.50 L132.0 299.61 L132.5 299.7 L316.5 299.7 L317.0 299.63 L317.5 299.59 L318.0 299.53 L318.5 299.44 L319.0 299.32 L319.5 299.17 L320.0 298.98 L320.5 298.76 L321.0 298.52 L321.5 298.28 L322.0 298.05 L322.5 297.85 L323.0 297.70 L323.5 297.61 L324.0 297.61 L324.5 297.67 L325.0 297.81 L325.5 298.00 L326.0 298.23 L326.5 298.48 L327.0 298.72 L327.5 298.94 L328.0 299.13 L328.5 299.29 L329.0 299.42 L329.5 299.51 L330.0 299.58 L330.5 299.62 L331.0 299.7 L338.0 299.7 L338.5 299.64 L339.0 299.58 L339.5 299.50 L340.0 299.36 L340.5 299.17 L341.0 298.91 L341.5 298.59 L342.0 298.21 L342.5 297.80 L343.0 297.40 L343.5 297.05 L344.0 296.81 L344.5 296.70 L345.0 296.75 L345.5 296.94 L346.0 297.25 L346.5 297.63 L347.0 298.05 L347.5 298.44 L348.0 298.79 L348.5 299.08 L349.0 299.29 L349.5 299.45 L350.0 299.55 L350.5 299.62 L351.0 299.7 L426.5 299.7 L427.0 299.61 L427.5 299.50 L428.0 299.33 L428.5 299.13 L429.0 298.97 L429.5 298.90 L430.0 298.97 L430.5 299.13 L431.0 299.33 L431.5 299.50 L432.0 299.61 L432.5 299.7 L437.0 299.7 L437.5 299.64 L438.0 299.48 L438.5 299.13 L439.0 298.60 L439.5 298.01 L440.0 297.51 L440.5 297.22 L441.0 297.11 L441.5 297.10 L442.0 297.13 L442.5 297.31 L443.0 297.69 L443.5 298.24 L444.0 298.83 L444.5 299.30 L445.0 299.56 L445.5 299.7 L492.5 299.7 L493.0 299.63 L493.5 299.60 L494.0 299.56 L494.5 299.51 L495.0 299.45 L495.5 299.38 L496.0 299.29 L496.5 299.19 L497.0 299.09 L497.5 298.99 L498.0 298.89 L498.5 298.79 L499.0 298.64 L499.5 298.37 L500.0 297.86 L500.5 297.03 L501.0 295.95 L501.5 294.84 L502.0 293.96 L502.5 293.46 L503.0 293.32 L503.5 293.39 L504.0 293.58 L504.5 294.03 L505.0 294.86 L505.5 296.00 L506.0 297.23 L506.5 298.29 L507.0 299.03 L507.5 299.43 L508.0 299.61 L508.5 299.7 L513.0 299.7 L513.0 299.7 Z" fill="#175a94"/>
<line x1="82.5" y1="329.0" x2="513.0" y2="329.0" stroke="#5a7896" stroke-width="1.2" stroke-dasharray="6 1.2 9 1.5 3 1 5 2"/>
<path d="M82.5 329.0 L82.5 328.95 L83.0 328.91 L83.5 328.84 L84.0 328.73 L84.5 328.59 L85.0 328.40 L85.5 328.17 L86.0 327.90 L86.5 327.61 L87.0 327.30 L87.5 326.98 L88.0 326.66 L88.5 326.35 L89.0 326.02 L89.5 325.69 L90.0 325.35 L90.5 325.02 L91.0 324.70 L91.5 324.43 L92.0 324.20 L92.5 324.05 L93.0 323.96 L93.5 323.20 L94.0 317.62 L94.5 311.31 L95.0 309.19 L95.5 309.10 L96.0 309.38 L96.5 309.72 L97.0 310.12 L97.5 311.06 L98.0 314.51 L98.5 321.92 L99.0 326.82 L99.5 327.53 L100.0 327.85 L100.5 328.12 L101.0 328.34 L101.5 328.52 L102.0 328.66 L102.5 328.77 L103.0 328.85 L103.5 328.90 L104.0 328.94 L104.5 329.0 L121.0 329.0 L121.5 328.90 L122.0 328.76 L122.5 328.49 L123.0 328.05 L123.5 327.41 L124.0 326.64 L124.5 325.83 L125.0 325.12 L125.5 324.62 L126.0 324.36 L126.5 324.30 L127.0 324.36 L127.5 324.62 L128.0 325.12 L128.5 325.83 L129.0 326.64 L129.5 327.41 L130.0 328.05 L130.5 328.49 L131.0 328.76 L131.5 328.90 L132.0 329.0 L163.0 329.0 L163.5 328.94 L164.0 328.92 L164.5 328.89 L165.0 328.85 L165.5 328.80 L166.0 328.75 L166.5 328.69 L167.0 328.62 L167.5 328.55 L168.0 328.49 L168.5 328.42 L169.0 328.36 L169.5 328.32 L170.0 328.28 L170.5 328.25 L171.0 328.23 L171.5 328.22 L172.0 328.22 L172.5 328.22 L173.0 328.24 L173.5 328.25 L174.0 328.28 L174.5 328.31 L175.0 328.35 L175.5 328.40 L176.0 328.45 L176.5 328.50 L177.0 328.56 L177.5 328.62 L178.0 328.68 L178.5 328.74 L179.0 328.79 L179.5 328.83 L180.0 328.87 L180.5 328.91 L181.0 328.93 L181.5 329.0 L195.5 329.0 L196.0 328.93 L196.5 328.88 L197.0 328.80 L197.5 328.68 L198.0 328.51 L198.5 328.31 L199.0 328.09 L199.5 327.87 L200.0 327.68 L200.5 327.55 L201.0 327.50 L201.5 327.55 L202.0 327.68 L202.5 327.87 L203.0 328.09 L203.5 328.31 L204.0 328.51 L204.5 328.68 L205.0 328.80 L205.5 328.88 L206.0 328.93 L206.5 329.0 L248.0 329.0 L248.5 328.93 L249.0 328.91 L249.5 328.87 L250.0 328.83 L250.5 328.77 L251.0 328.71 L251.5 328.65 L252.0 328.58 L252.5 328.51 L253.0 328.44 L253.5 328.38 L254.0 328.34 L254.5 328.31 L255.0 328.30 L255.5 328.31 L256.0 328.34 L256.5 328.38 L257.0 328.44 L257.5 328.51 L258.0 328.58 L258.5 328.65 L259.0 328.71 L259.5 328.77 L260.0 328.83 L260.5 328.87 L261.0 328.91 L261.5 328.93 L262.0 329.0 L283.0 329.0 L283.5 328.94 L284.0 328.92 L284.5 328.89 L285.0 328.85 L285.5 328.81 L286.0 328.75 L286.5 328.70 L287.0 328.64 L287.5 328.58 L288.0 328.52 L288.5 328.47 L289.0 328.43 L289.5 328.41 L290.0 328.40 L290.5 328.41 L291.0 328.43 L291.5 328.47 L292.0 328.52 L292.5 328.58 L293.0 328.64 L293.5 328.70 L294.0 328.75 L294.5 328.81 L295.0 328.85 L295.5 328.89 L296.0 328.92 L296.5 328.94 L297.0 329.0 L310.5 329.0 L311.0 328.95 L311.5 328.90 L312.0 328.83 L312.5 328.72 L313.0 328.56 L313.5 328.36 L314.0 328.10 L314.5 327.80 L315.0 327.46 L315.5 327.09 L316.0 326.71 L316.5 326.33 L317.0 325.96 L317.5 325.60 L318.0 325.27 L318.5 324.99 L319.0 324.77 L319.5 324.66 L320.0 324.66 L320.5 324.80 L321.0 325.06 L321.5 325.42 L322.0 325.86 L322.5 326.35 L323.0 326.84 L323.5 327.30 L324.0 327.71 L324.5 328.06 L325.0 328.34 L325.5 328.55 L326.0 328.71 L326.5 328.82 L327.0 328.89 L327.5 328.93 L328.0 329.0 L338.5 329.0 L339.0 328.89 L339.5 328.75 L340.0 328.48 L340.5 328.03 L341.0 327.32 L341.5 326.34 L342.0 325.14 L342.5 323.85 L343.0 322.70 L343.5 321.90 L344.0 321.61 L344.5 321.84 L345.0 322.47 L345.5 323.28 L346.0 324.07 L346.5 324.71 L347.0 325.21 L347.5 325.64 L348.0 326.07 L348.5 326.55 L349.0 327.04 L349.5 327.45 L350.0 327.69 L350.5 327.69 L351.0 327.46 L351.5 327.08 L352.0 326.69 L352.5 326.43 L353.0 326.41 L353.5 326.67 L354.0 327.11 L354.5 327.63 L355.0 328.11 L355.5 328.49 L356.0 328.73 L356.5 328.88 L357.0 328.95 L357.5 329.0 L388.5 329.0 L389.0 328.93 L389.5 328.91 L390.0 328.88 L390.5 328.84 L391.0 328.79 L391.5 328.75 L392.0 328.70 L392.5 328.65 L393.0 328.60 L393.5 328.56 L394.0 328.53 L394.5 328.51 L395.0 328.50 L395.5 328.51 L396.0 328.53 L396.5 328.56 L397.0 328.60 L397.5 328.65 L398.0 328.70 L398.5 328.75 L399.0 328.79 L399.5 328.84 L400.0 328.88 L400.5 328.91 L401.0 328.93 L401.5 329.0 L437.0 329.0 L437.5 328.93 L438.0 328.86 L438.5 328.75 L439.0 328.59 L439.5 328.39 L440.0 328.20 L440.5 328.05 L441.0 328.00 L441.5 328.05 L442.0 328.20 L442.5 328.39 L443.0 328.59 L443.5 328.75 L444.0 328.86 L444.5 328.93 L445.0 329.0 L453.5 329.0 L454.0 328.93 L454.5 328.91 L455.0 328.88 L455.5 328.84 L456.0 328.79 L456.5 328.75 L457.0 328.70 L457.5 328.65 L458.0 328.60 L458.5 328.56 L459.0 328.53 L459.5 328.51 L460.0 328.50 L460.5 328.50 L461.0 328.52 L461.5 328.55 L462.0 328.59 L462.5 328.62 L463.0 328.66 L463.5 328.70 L464.0 328.73 L464.5 328.74 L465.0 328.75 L465.5 328.74 L466.0 328.73 L466.5 328.70 L467.0 328.66 L467.5 328.62 L468.0 328.59 L468.5 328.55 L469.0 328.52 L469.5 328.50 L470.0 328.50 L470.5 328.51 L471.0 328.53 L471.5 328.56 L472.0 328.60 L472.5 328.65 L473.0 328.70 L473.5 328.75 L474.0 328.79 L474.5 328.84 L475.0 328.88 L475.5 328.91 L476.0 328.93 L476.5 329.0 L479.0 329.0 L479.5 328.91 L480.0 328.84 L480.5 328.74 L481.0 328.58 L481.5 328.37 L482.0 328.10 L482.5 327.79 L483.0 327.45 L483.5 327.10 L484.0 326.79 L484.5 326.51 L485.0 326.31 L485.5 326.18 L486.0 326.11 L486.5 326.10 L487.0 326.11 L487.5 326.18 L488.0 326.31 L488.5 326.51 L489.0 326.79 L489.5 327.11 L490.0 327.45 L490.5 327.79 L491.0 328.10 L491.5 328.37 L492.0 328.58 L492.5 328.74 L493.0 328.85 L493.5 328.92 L494.0 329.0 L497.5 329.0 L498.0 328.93 L498.5 328.79 L499.0 328.48 L499.5 327.95 L500.0 327.20 L500.5 326.33 L501.0 325.53 L501.5 324.95 L502.0 324.66 L502.5 324.60 L503.0 324.66 L503.5 324.95 L504.0 325.53 L504.5 326.33 L505.0 327.20 L505.5 327.95 L506.0 328.48 L506.5 328.79 L507.0 328.93 L507.5 329.0 L513.0 329.0 L513.0 329.0 Z" fill="#175a94"/>
<rect x="94.80" y="245.30" width="3.20" height="1.20" fill="#9a9a9a"/>
<rect x="126.00" y="245.30" width="2.00" height="1.20" fill="#9a9a9a"/>
<rect x="318.00" y="245.30" width="2.50" height="1.20" fill="#9a9a9a"/>
<rect x="343.00" y="245.30" width="4.70" height="1.20" fill="#444"/>
<rect x="353.50" y="245.30" width="1.50" height="1.20" fill="#9a9a9a"/>
<rect x="440.50" y="245.30" width="2.00" height="1.20" fill="#9a9a9a"/>
<rect x="488.00" y="245.30" width="1.50" height="1.20" fill="#ccc"/>
<rect x="501.80" y="245.30" width="0.80" height="1.20" fill="#555"/>
<rect x="92.60" y="274.40" width="7.70" height="1.20" fill="#9a9a9a"/>
<rect x="126.30" y="274.40" width="1.50" height="1.20" fill="#9a9a9a"/>
<rect x="318.00" y="274.40" width="2.50" height="1.20" fill="#9a9a9a"/>
<rect x="340.80" y="274.40" width="6.20" height="1.20" fill="#555"/>
<rect x="353.30" y="274.40" width="1.70" height="1.20" fill="#9a9a9a"/>
<rect x="440.50" y="274.40" width="1.50" height="1.20" fill="#bbb"/>
<rect x="91.00" y="303.20" width="7.80" height="1.60" fill="#111"/>
<rect x="126.30" y="303.20" width="1.00" height="1.60" fill="#bbb"/>
<rect x="344.00" y="303.20" width="1.00" height="1.60" fill="#ccc"/>
<rect x="441.00" y="303.20" width="0.80" height="1.60" fill="#777"/>
<rect x="502.50" y="303.20" width="1.00" height="1.60" fill="#777"/>
<rect x="88.00" y="333.00" width="13.10" height="1.60" fill="#111"/>
<rect x="126.00" y="333.00" width="1.30" height="1.60" fill="#f0a060"/>
<rect x="318.00" y="333.00" width="2.50" height="1.60" fill="#c8b090"/>
<rect x="341.00" y="333.00" width="6.00" height="1.60" fill="#555"/>
<rect x="502.20" y="333.00" width="0.80" height="1.60" fill="#888"/>
<rect x="270.45" y="340.20" width="1.30" height="6.10" fill="#2e6b3a"/>
<rect x="290.95" y="340.20" width="1.70" height="6.10" fill="#2e6b3a"/>
<rect x="296.45" y="340.20" width="1.30" height="6.10" fill="#2e6b3a"/>
<rect x="501.45" y="340.20" width="1.50" height="6.10" fill="#2e6b3a"/>
<rect x="343.50" y="350.00" width="1.60" height="5.60" fill="#111"/>
<rect x="353.00" y="350.00" width="1.60" height="5.60" fill="#111"/>
<rect x="356.90" y="350.00" width="1.60" height="5.60" fill="#111"/>
<rect x="489.10" y="350.00" width="1.60" height="5.60" fill="#111"/>
<text x="344.3" y="359.2" font-size="2.4" fill="#666" text-anchor="middle" stroke="#666" stroke-width="0.08">1</text>
<text x="353.8" y="359.2" font-size="2.4" fill="#666" text-anchor="middle" stroke="#666" stroke-width="0.08">2.5</text>
<text x="357.7" y="359.2" font-size="2.4" fill="#666" text-anchor="middle" stroke="#666" stroke-width="0.08">3.4</text>
<text x="489.9" y="359.2" font-size="2.4" fill="#666" text-anchor="middle" stroke="#666" stroke-width="0.08">1</text>
<line x1="429.6" y1="206.5" x2="429.6" y2="346" stroke="#8080bf" stroke-width="0.9"/>
<text x="465.0" y="258.0" font-size="7.0" fill="#9cc8e6" text-anchor="start" textLength="14.8" lengthAdjust="spacingAndGlyphs">DNMi</text>
<text x="432.0" y="322.2" font-size="7.0" fill="#3f4f8f" text-anchor="start" textLength="30.2" lengthAdjust="spacingAndGlyphs">cg07235066</text>
</svg></body></html>
